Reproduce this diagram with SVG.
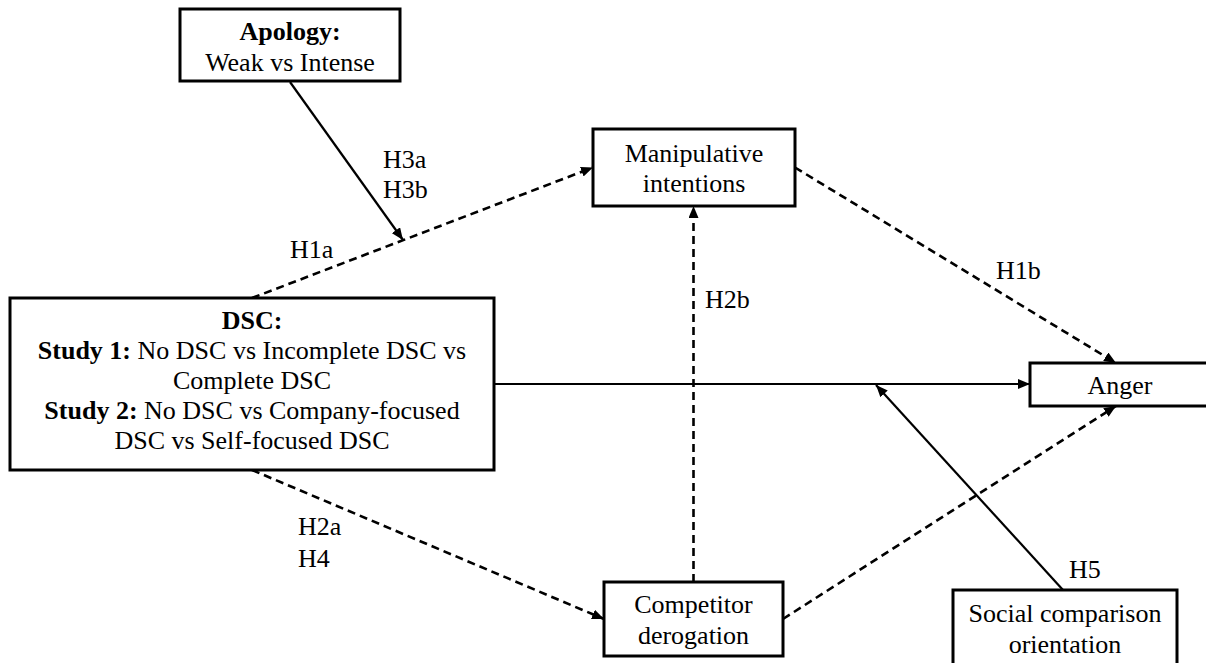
<svg xmlns="http://www.w3.org/2000/svg" width="1206" height="663" viewBox="0 0 1206 663">
<defs>
<style>
.box{fill:#fff;stroke:#000;stroke-width:3}
.t{font-family:"Liberation Serif","Times New Roman",serif;font-size:26px;fill:#000}
.c{text-anchor:middle}
.b{font-weight:bold}
.s{fill:none;stroke:#000;stroke-width:2.2}
.d{fill:none;stroke:#000;stroke-width:2.6;stroke-dasharray:8 5}
</style>
<marker id="ah" viewBox="0 0 12 10" refX="12" refY="5" markerWidth="12" markerHeight="10" markerUnits="userSpaceOnUse" orient="auto">
<path d="M0,0 L12,5 L0,10 Z" fill="#000"/>
</marker>
</defs>
<rect width="1206" height="663" fill="#fff"/>
<g id="connectors">
<line class="s" x1="290" y1="82" x2="403" y2="240" marker-end="url(#ah)"/>
<line class="d" x1="252" y1="298" x2="593" y2="167.5" marker-end="url(#ah)"/>
<line class="d" x1="795" y1="167.5" x2="1116" y2="363" marker-end="url(#ah)"/>
<line class="s" x1="494" y1="384" x2="1030" y2="384" marker-end="url(#ah)"/>
<line class="s" x1="1063" y1="590" x2="876" y2="385" marker-end="url(#ah)"/>
<line class="d" x1="252" y1="470" x2="604" y2="619" marker-end="url(#ah)"/>
<line class="d" x1="693.5" y1="582" x2="693.5" y2="206" marker-end="url(#ah)"/>
<line class="d" x1="783" y1="619" x2="1116" y2="406" marker-end="url(#ah)"/>
</g>
<g id="labels">
<text class="t" x="383" y="168">H3a</text>
<text class="t" x="383" y="198">H3b</text>
<text class="t" x="290" y="258">H1a</text>
<text class="t" x="996" y="279">H1b</text>
<text class="t" x="705" y="308">H2b</text>
<text class="t" x="298" y="535">H2a</text>
<text class="t" x="298" y="567">H4</text>
<text class="t" x="1069" y="578">H5</text>
</g>
<g id="apology">
<rect class="box" x="180" y="9" width="220" height="72"/>
<text class="t c b" x="290" y="40">Apology:</text>
<text class="t c" x="290" y="71">Weak vs Intense</text>
</g>
<g id="manipulative">
<rect class="box" x="593" y="129" width="202" height="77"/>
<text class="t c" x="694" y="162">Manipulative</text>
<text class="t c" x="694" y="192">intentions</text>
</g>
<g id="dsc">
<rect class="box" x="10" y="298" width="484" height="172"/>
<text class="t c b" x="252" y="329">DSC:</text>
<text class="t c" x="252" y="359"><tspan class="b">Study 1:</tspan> No DSC vs Incomplete DSC vs</text>
<text class="t c" x="252" y="389">Complete DSC</text>
<text class="t c" x="252" y="419"><tspan class="b">Study 2:</tspan> No DSC vs Company-focused</text>
<text class="t c" x="252" y="449">DSC vs Self-focused DSC</text>
</g>
<g id="anger">
<rect class="box" x="1030" y="363" width="180" height="43"/>
<text class="t c" x="1120" y="394">Anger</text>
</g>
<g id="competitor">
<rect class="box" x="604" y="582" width="179" height="74"/>
<text class="t c" x="693.5" y="613">Competitor</text>
<text class="t c" x="693.5" y="644">derogation</text>
</g>
<g id="sco">
<rect class="box" x="953" y="590" width="224" height="80"/>
<text class="t c" x="1065" y="622">Social comparison</text>
<text class="t c" x="1065" y="653">orientation</text>
</g>
</svg>
